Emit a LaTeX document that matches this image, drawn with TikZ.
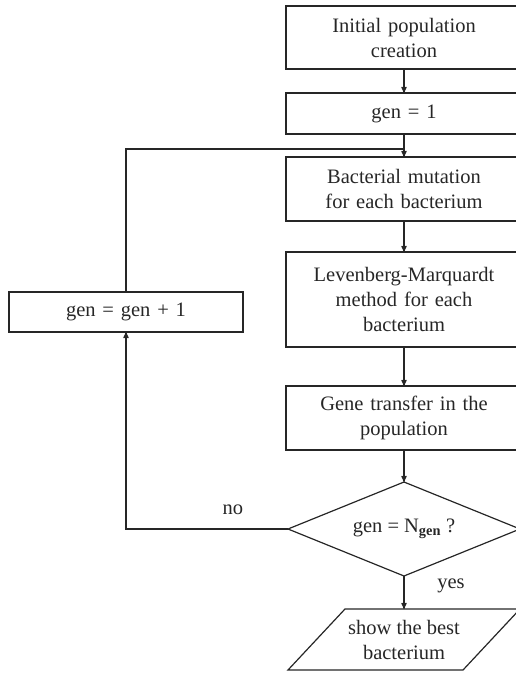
\documentclass[tikz,border=0pt]{standalone}
\usepackage{fontspec}
\setmainfont{Liberation Serif}
\usetikzlibrary{arrows,shapes.geometric,positioning}
\tikzstyle{block} = [rectangle, draw, text width=230pt, inner xsep=3pt, inner ysep=0pt,
    align=center, minimum height=41pt]
\tikzstyle{decision} = [diamond, draw, aspect=2.47, inner sep=0pt,
    minimum width=232pt, minimum height=94pt]
\tikzstyle{io} = [rectangle, inner sep=0pt, align=center,
    minimum width=118pt, minimum height=61pt]

\begin{document}
\begin{tikzpicture}[->,>=stealth',line width=1.2pt,color=black!85,node distance=24pt,
                    outer sep=0pt,font=\fontsize{20.5}{25}\selectfont]
  \useasboundingbox (0,0) rectangle (515pt,-676pt);

  \node[block,minimum height=63pt] (init) at (404pt,-37.5pt) {Initial population\\creation};
  \node[block]                     (genone)   [below=24pt of init]     {gen = 1};
  \node[block,minimum height=64pt] (mutate)   [below=23pt of genone]   {Bacterial mutation\\for each bacterium};
  \node[block,minimum height=95pt] (lm)       [below=31pt of mutate]   {Levenberg-Marquardt\\method for each\\bacterium};
  \node[block,minimum height=64pt] (transfer) [below=39pt of lm]       {Gene transfer in the\\population};
  \node[decision]                  (check)    [below=32pt of transfer] {gen = N\textsubscript{\textbf{gen}} ?};
  \node[io]                        (show)     [below=33pt of check]    {show the best\\bacterium};
  \node[block,text width=228pt,minimum height=40pt] (incr) at (126pt,-312pt) {gen = gen + 1};
  \coordinate[above=8pt of mutate.north] (join);

  % slanted output box round the last node
  \draw[-] ([xshift=-57pt]show.south west) -- (show.south east)
        -- ([xshift=57pt]show.north east) -- (show.north west) -- cycle;

  \path (init) edge              (genone)
        (genone) edge            (mutate)
        (mutate) edge            (lm)
        (lm) edge                (transfer)
        (transfer) edge          (check)
        (check) edge node[pos=0.3,right=30pt] (yeslbl) {yes} (show);

  \draw (check.west) -| node[pos=0.17,above=11pt] (nolbl) {no} (incr.south);
  \draw[-] (incr.north) |- (join);
\end{tikzpicture}
\end{document}
